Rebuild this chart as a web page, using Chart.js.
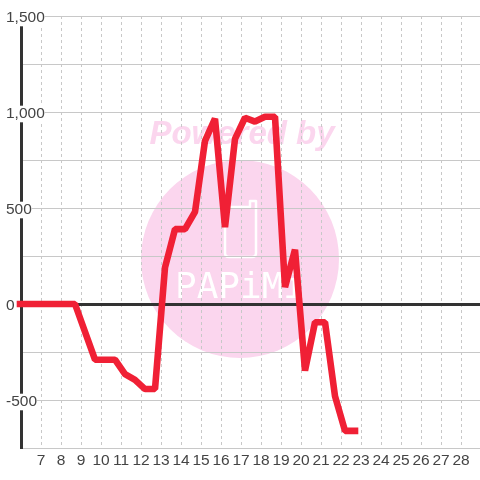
<!DOCTYPE html>
<html><head><meta charset="utf-8">
<style>html,body{margin:0;padding:0;background:#fff}#w{position:relative;width:480px;height:480px}</style>
<script src="https://cdn.jsdelivr.net/npm/chart.js@4"></script></head>
<body><div id="w"><canvas id="c" width="480" height="480"></canvas></div>
<script>
const hours=[5.95,6.2,6.7,7.2,7.7,8.2,8.7,9.7,10.7,11.2,11.7,12.2,12.7,13.2,13.7,14.2,14.7,15.2,15.7,16.2,16.7,17.2,17.7,18.2,18.7,19.2,19.7,20.2,20.7,21.2,21.7,22.2,22.7];
const values=[0,0,0,0,0,0,0,-290,-290,-365,-395,-443,-443,190,390,390,480,850,965,400,860,970,950,975,975,88,283,-347,-95,-95,-480,-661,-661];
const tickHours=[7,8,9,10,11,12,13,14,15,16,17,18,19,20,21,22,23,24,25,26,27,28];
const yTicks=[-750,-500,-250,0,250,500,750,1000,1250,1500];
const yLabelled=[-500,0,500,1000,1500];
const watermark=['Powered by','PAPiMi'];
const wm={id:'wm',beforeDraw(ch){const g=ch.ctx;g.save();
 g.fillStyle='#fbd6ee';g.beginPath();g.arc(240,259,99,0,7);g.fill();
 g.font='italic bold 33px "Liberation Sans"';g.textAlign='center';g.textBaseline='middle';g.fillText(watermark[0],242,135);
 g.strokeStyle='#fff';g.lineWidth=2.5;g.lineJoin='round';g.beginPath();g.moveTo(225,207);g.lineTo(225,253);g.quadraticCurveTo(225,257,229,257);g.lineTo(252,257);g.quadraticCurveTo(256,257,256,253);g.lineTo(256,201);g.lineTo(250,201);g.lineTo(250,207);g.closePath();g.stroke();
 g.fillStyle='#fff';g.font='36px "DejaVu Sans Mono"';g.fillText(watermark[1],240,289);g.restore();}};
new Chart(document.getElementById('c'),{type:'line',plugins:[wm],
 data:{datasets:[{data:hours.map((x,i)=>({x,y:values[i]})),borderColor:'#f02035',borderWidth:6.6,pointRadius:0,tension:0,borderCapStyle:'square',borderJoinStyle:'bevel',clip:false}]},
 options:{responsive:false,animation:false,layout:{padding:{left:21,top:16,right:0,bottom:0}},
  plugins:{legend:{display:false},tooltip:{enabled:false}},
  scales:{
   x:{type:'linear',min:6,max:28.95,afterBuildTicks(s){s.ticks=tickHours.map(value=>({value}));},afterFit(s){s.height=32;},
     grid:{color:'#c8c8c8',lineWidth:1,drawTicks:false},border:{display:false,dash:[3,3]},
     ticks:{autoSkip:false,maxRotation:0,padding:3,color:'#444',font:{family:'"Liberation Sans"',size:15.5},callback:v=>String(v)}},
   y:{min:-750,max:1500,afterBuildTicks(s){s.ticks=yTicks.map(value=>({value}));},afterFit(s){s.width=0;},
     grid:{color:c=>c.tick.value===0?'#333':'#c8c8c8',lineWidth:c=>c.tick.value===0?3:1,drawTicks:false},
     border:{display:true,color:'#333',width:3},
     ticks:{mirror:true,padding:-15,labelOffset:2,autoSkip:false,color:'#444',font:{family:'"Liberation Sans"',size:15.5},showLabelBackdrop:true,backdropColor:'#fff',backdropPadding:{x:0,y:-1},
       callback:v=>yLabelled.includes(v)?v.toLocaleString('en-US'):''}}
  }}});
</script></body></html>
